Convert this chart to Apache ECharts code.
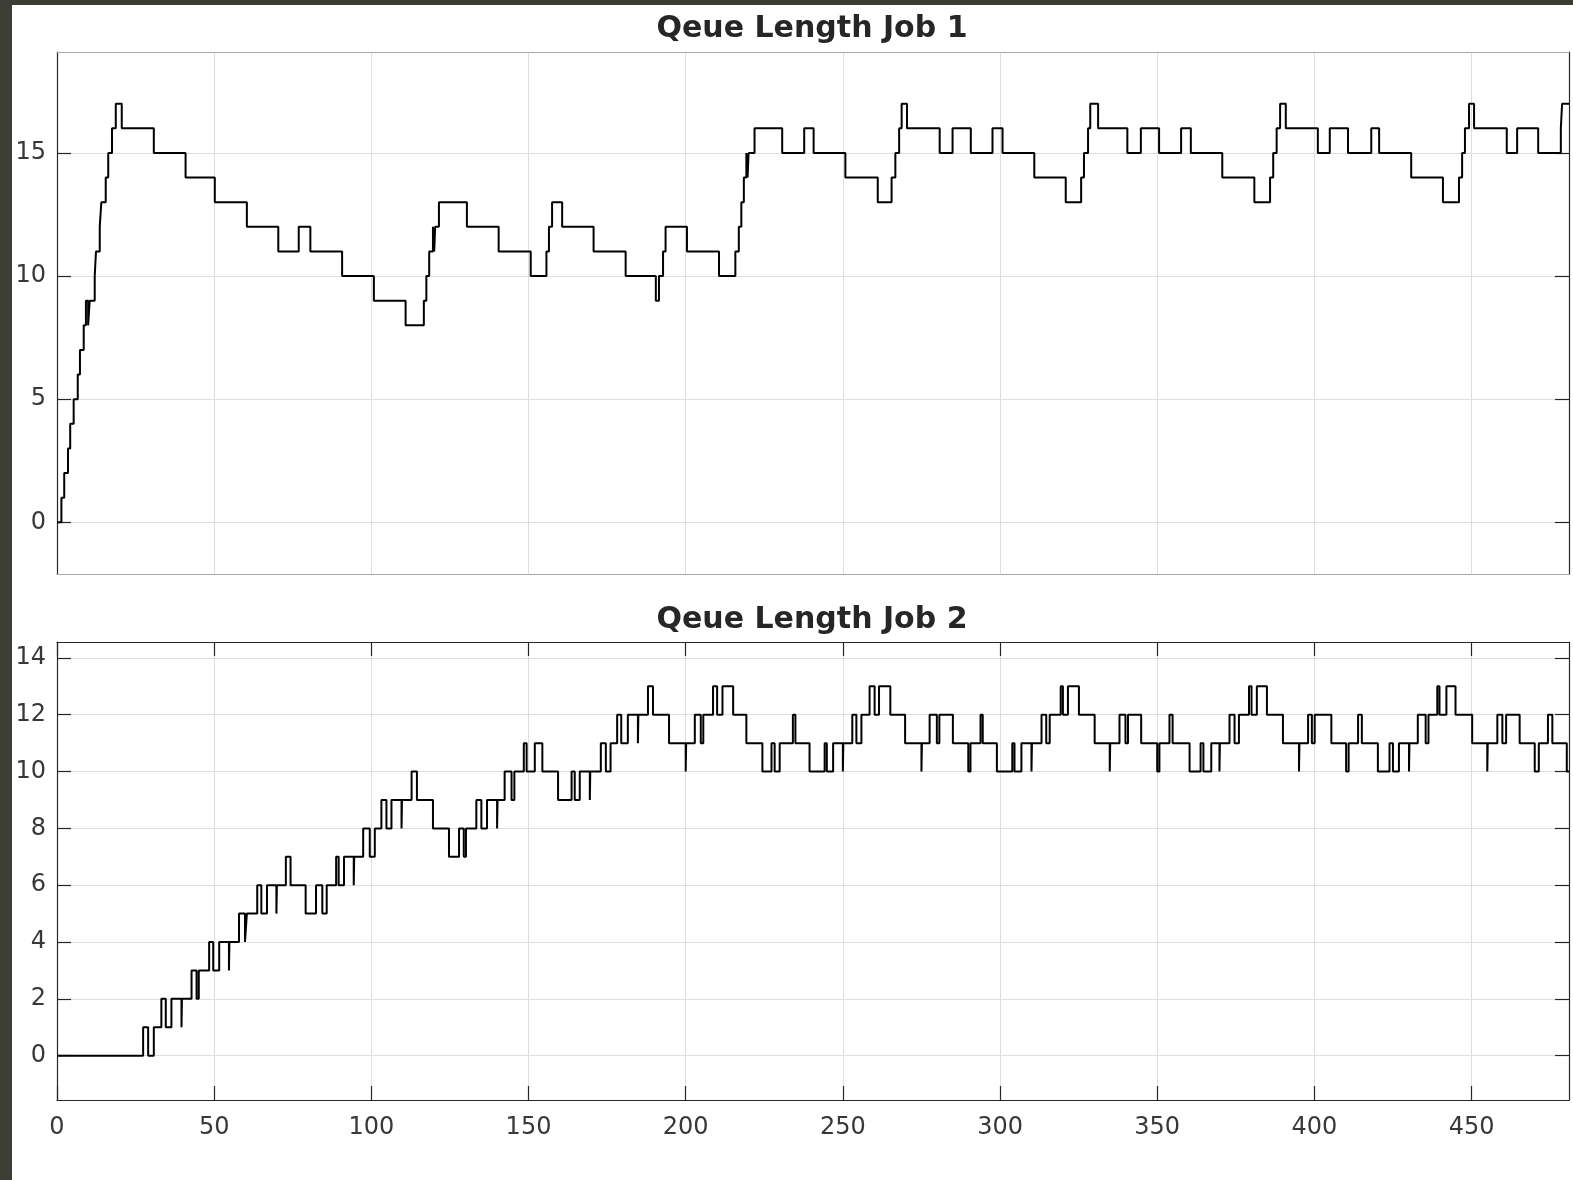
<!DOCTYPE html>
<html>
<head>
<meta charset="utf-8">
<script src="https://cdn.jsdelivr.net/npm/echarts@6/dist/echarts.min.js"></script>
<style>
html,body{margin:0;padding:0;background:#ffffff;}
#wrap{position:relative;width:1573px;height:1180px;overflow:hidden;background:#ffffff;}
#chart{position:absolute;left:0;top:0;width:1573px;height:1180px;}
.strip{position:absolute;background:#3c3d35;}
</style>
</head>
<body>
<div id="wrap">
<div id="chart"></div>
<div class="strip" style="left:0;top:0;width:12px;height:1180px;"></div>
<div class="strip" style="left:0;top:0;width:1573px;height:5px;"></div>
</div>
<script>
// ---- data ----
const titles = ['Qeue Length Job 1', 'Qeue Length Job 2'];
const xTicks = [0, 50, 100, 150, 200, 250, 300, 350, 400, 450];
const y1Ticks = [0, 5, 10, 15];
const y2Ticks = [0, 2, 4, 6, 8, 10, 12, 14];

// Job 1: times at which the queue length changes, and the new length
const job1Times = [0, 1.4, 2.3, 3.5, 4.2, 5.3, 6.6, 7.3, 8.5, 9.2, 9.9, 10.4, 12.0, 12.4, 13.6, 14.1, 15.5, 16.3, 17.5, 18.7, 20.6,
  30.8, 40.9, 50.2, 60.4, 70.4, 76.9, 80.6, 90.7, 100.8, 110.9, 116.7, 117.5, 118.4, 119.6, 120.0, 120.3, 121.5,
  130.4, 140.5, 150.7, 155.7, 156.5, 157.5, 160.7, 170.7, 180.9, 190.5, 191.5, 192.8, 193.6, 200.4, 210.6,
  215.8, 216.9, 217.7, 218.5, 219.3, 219.7, 220.0, 221.9, 230.7, 237.7, 240.7, 250.8, 261.1,
  265.5, 266.7, 267.9, 268.7, 270.4, 280.8, 284.9, 290.7, 297.6, 300.8, 310.9, 320.9,
  325.8, 326.7, 328.0, 328.7, 331.2, 340.5, 344.8, 350.6, 357.6, 360.7, 370.7, 380.9,
  385.9, 386.9, 388.0, 389.1, 390.9, 401.1, 404.9, 410.7, 418.1, 420.6, 430.8, 440.9,
  446.0, 447.0, 447.9, 449.2, 450.8, 461.2, 464.5, 471.2, 478.4, 478.8, 481];
const job1Values = [0, 1, 2, 3, 4, 5, 6, 7, 8, 9, 8, 9, 10, 11, 12, 13, 14, 15, 16, 17, 16,
  15, 14, 13, 12, 11, 12, 11, 10, 9, 8, 9, 10, 11, 12, 11, 12, 13,
  12, 11, 10, 11, 12, 13, 12, 11, 10, 9, 10, 11, 12, 11, 10,
  11, 12, 13, 14, 15, 14, 15, 16, 15, 16, 15, 14, 13,
  14, 15, 16, 17, 16, 15, 16, 15, 16, 15, 14, 13,
  14, 15, 16, 17, 16, 15, 16, 15, 16, 15, 14, 13,
  14, 15, 16, 17, 16, 15, 16, 15, 16, 15, 14, 13,
  14, 15, 16, 17, 16, 15, 16, 15, 16, 17, 17];

// Job 2
const job2Times = [0, 27.4, 29.0, 30.8, 33.2, 34.6, 36.4, 39.6, 39.75, 42.8, 44.4, 45.1, 48.4, 49.7, 51.6, 54.7, 54.85,
  57.9, 59.8, 60.4, 63.7, 65.0, 66.8, 69.8, 69.95, 72.8, 74.3, 79.1, 82.4, 84.4, 85.8, 88.8, 89.6,
  91.3, 94.4, 94.55, 97.4, 99.5, 101.1, 103.2, 104.8, 106.4, 109.6, 109.75, 112.8, 114.5, 119.6, 124.7,
  127.9, 129.4, 130.1, 133.4, 135.0, 136.8, 140.0, 140.15, 142.4, 144.6, 145.5, 148.5, 149.4, 152.0, 154.4,
  159.4, 163.7, 164.7, 166.3, 169.5, 169.65, 173.0, 174.6, 176.1, 178.2, 179.5, 181.6, 184.8, 184.95,
  188.0, 189.6, 194.7, 200.0, 200.15, 202.9, 204.8, 205.6, 208.7, 210.0, 211.7, 215.1, 219.3,
  224.4, 227.3, 228.3, 229.9, 234.1, 234.9, 239.4, 244.2, 244.9, 246.9, 250.0, 250.15, 253.0, 254.3, 255.9,
  258.5, 260.1, 261.5, 265.1, 269.8, 275.0, 275.15, 277.6, 279.9, 280.7, 285.0, 289.9, 290.6, 293.8, 294.5,
  299.0, 303.9, 304.6, 306.8, 310.0, 310.15, 313.2, 314.7, 315.8, 319.3, 320.0, 321.6, 325.1,
  330.1, 334.9, 335.05, 338.0, 339.9, 340.7, 344.9, 350.0, 350.7, 353.9, 354.9,
  360.3, 363.8, 364.7, 367.2, 369.8, 369.95, 373.0, 374.6, 376.0, 379.2, 380.0, 381.7, 384.9,
  390.0, 395.1, 395.25, 398.0, 399.2, 400.1, 405.4, 410.1, 410.9, 413.9, 415.1,
  420.2, 423.9, 425.0, 426.9, 430.1, 430.25, 432.9, 435.4, 436.3, 439.1, 439.8, 442.0, 444.9,
  450.2, 455.0, 455.15, 458.2, 459.8, 461.0, 465.3, 470.1, 471.4, 474.3, 475.7, 480.3, 481];
const job2Values = [0, 1, 0, 1, 2, 1, 2, 1, 2, 3, 2, 3, 4, 3, 4, 3, 4,
  5, 4, 5, 6, 5, 6, 5, 6, 7, 6, 5, 6, 5, 6, 7, 6,
  7, 6, 7, 8, 7, 8, 9, 8, 9, 8, 9, 10, 9, 8, 7,
  8, 7, 8, 9, 8, 9, 8, 9, 10, 9, 10, 11, 10, 11, 10,
  9, 10, 9, 10, 9, 10, 11, 10, 11, 12, 11, 12, 11, 12,
  13, 12, 11, 10, 11, 12, 11, 12, 13, 12, 13, 12, 11,
  10, 11, 10, 11, 12, 11, 10, 11, 10, 11, 10, 11, 12, 11, 12,
  13, 12, 13, 12, 11, 10, 11, 12, 11, 12, 11, 10, 11, 12, 11,
  10, 11, 10, 11, 10, 11, 12, 11, 12, 13, 12, 13, 12,
  11, 10, 11, 12, 11, 12, 11, 10, 11, 12, 11,
  10, 11, 10, 11, 10, 11, 12, 11, 12, 13, 12, 13, 12,
  11, 10, 11, 12, 11, 12, 11, 10, 11, 12, 11,
  10, 11, 10, 11, 10, 11, 12, 11, 12, 13, 12, 13, 12,
  11, 10, 11, 12, 11, 12, 11, 10, 11, 12, 11, 10, 10];

// ---- chart ----
const FONT = 'DejaVu Sans';
const DARK = '#262626';
const LABELC = '#383838';
const LIGHT_AX = '#a8a8a8';
const GRIDC = '#dedede';

function pairs(ts, vs) { return ts.map((t, i) => [t, vs[i]]); }

function xAx(gi, pos, opts) {
  return Object.assign({
    type: 'value', gridIndex: gi, position: pos, min: 0, max: 481,
    axisLine: { show: true, onZero: false, lineStyle: { color: DARK, width: 1.2 } },
    axisTick: { show: false, customValues: xTicks },
    axisLabel: { show: false, customValues: xTicks },
    splitLine: { show: false }
  }, opts);
}
function yAx(gi, pos, mn, mx, ticks, opts) {
  return Object.assign({
    type: 'value', gridIndex: gi, position: pos, min: mn, max: mx,
    axisLine: { show: true, onZero: false, lineStyle: { color: DARK, width: 1.2 } },
    axisTick: { show: true, inside: true, length: 14, customValues: ticks, lineStyle: { color: DARK, width: 1.2 } },
    axisLabel: { show: false, customValues: ticks },
    splitLine: { show: false }
  }, opts);
}

const labelStyle = { color: LABELC, fontFamily: FONT, fontSize: 24 };

const chart = echarts.init(document.getElementById('chart'), null, { renderer: 'canvas' });
chart.setOption({
  animation: false,
  backgroundColor: '#ffffff',
  title: [
    { text: titles[0], left: 812, top: 14, padding: 0, textAlign: 'center',
      textStyle: { fontFamily: FONT, fontWeight: 'bold', fontSize: 30, color: DARK } },
    { text: titles[1], left: 812, top: 605, padding: 0, textAlign: 'center',
      textStyle: { fontFamily: FONT, fontWeight: 'bold', fontSize: 30, color: DARK } }
  ],
  grid: [
    { left: 57, right: 4, top: 52, height: 522, containLabel: false },
    { left: 57, right: 4, top: 642, height: 458, containLabel: false }
  ],
  xAxis: [
    xAx(0, 'bottom', { axisLine: { show: true, onZero: false, lineStyle: { color: LIGHT_AX, width: 1.2 } },
      splitLine: { show: true, lineStyle: { color: GRIDC, width: 1 } } }),
    xAx(0, 'top', { axisLine: { show: true, onZero: false, lineStyle: { color: LIGHT_AX, width: 1.2 } } }),
    xAx(1, 'bottom', {
      axisTick: { show: true, inside: true, length: 14, customValues: xTicks, lineStyle: { color: DARK, width: 1.2 } },
      axisLabel: Object.assign({ show: true, margin: 16, customValues: xTicks }, labelStyle),
      splitLine: { show: true, lineStyle: { color: GRIDC, width: 1 } } }),
    xAx(1, 'top', {
      axisTick: { show: true, inside: true, length: 14, customValues: xTicks, lineStyle: { color: DARK, width: 1.2 } } })
  ],
  yAxis: [
    yAx(0, 'left', -2.1, 19.1, y1Ticks, {
      axisLabel: Object.assign({ show: true, margin: 11, padding: [4, 0, 0, 0], customValues: y1Ticks }, labelStyle),
      splitLine: { show: true, lineStyle: { color: GRIDC, width: 1 } } }),
    yAx(0, 'right', -2.1, 19.1, y1Ticks, {}),
    yAx(1, 'left', -1.56, 14.56, y2Ticks, {
      axisLabel: Object.assign({ show: true, margin: 11, padding: [4, 0, 0, 0], customValues: y2Ticks }, labelStyle),
      splitLine: { show: true, lineStyle: { color: GRIDC, width: 1 } } }),
    yAx(1, 'right', -1.56, 14.56, y2Ticks, {})
  ],
  series: [
    { type: 'line', xAxisIndex: 0, yAxisIndex: 0, step: 'end', symbol: 'none', silent: true,
      lineStyle: { color: '#000000', width: 2 }, data: pairs(job1Times, job1Values) },
    { type: 'line', xAxisIndex: 2, yAxisIndex: 2, step: 'end', symbol: 'none', silent: true,
      lineStyle: { color: '#000000', width: 2 }, data: pairs(job2Times, job2Values) }
  ]
});
</script>
</body>
</html>
